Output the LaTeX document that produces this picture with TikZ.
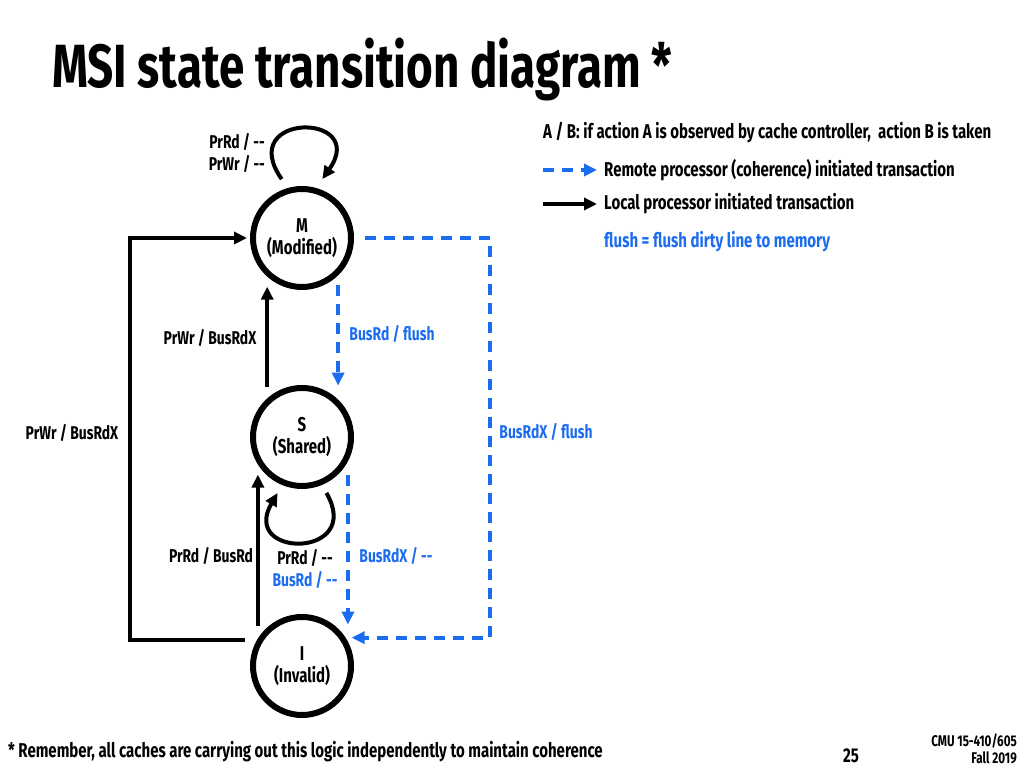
\documentclass[tikz,border=0pt]{standalone}
\usepackage{fontspec}
\setmainfont{Fira Sans}[FakeStretch=0.75]
\usetikzlibrary{arrows.meta, calc}
\definecolor{flushblue}{RGB}{28,108,240}
\newcommand{\lblfont}{\bfseries\fontsize{18.5}{22}\selectfont}
\newcommand{\circfont}{\bfseries\fontsize{20}{22}\selectfont}
\newcommand{\keyfont}{\bfseries\fontsize{20}{23}\selectfont}
\newcommand{\titlefont}{\bfseries\fontsize{61}{66}\selectfont}
\newcommand{\footfont}{\bfseries\fontsize{20}{22}\selectfont}
\newcommand{\nop}{-{}-}

\begin{document}
\begin{tikzpicture}[x=1pt, y=1pt,
  state/.style={circle, draw, line width=6pt, minimum size=98pt, inner sep=0pt, align=center, font=\circfont},
  local/.style={line width=4pt, -{Triangle[length=13pt,width=12pt]}},
  remote/.style={local, flushblue, dash pattern=on 11pt off 8pt},
  lbl/.style={font=\lblfont, inner sep=1pt, align=center}]
	\useasboundingbox (0,0) rectangle (1024,768);
	\node[font=\titlefont, anchor=base west, inner sep=0pt] (title) at (52,680) {MSI state transition diagram *};

	% the three states
	\node[state] (M) at (302,530) {M\\(Modified)};
	\node[state] (S) at (302,331) {S\\(Shared)};
	\node[state] (I) at (302,102) {I\\(Invalid)};
	\coordinate (lft) at (130,0);
	\coordinate (rgt) at (490,0);

	% local transitions
	\draw[local, shorten <=11pt, shorten >=10pt] (S.132) -- (M.228);
	\draw[local, shorten <=12pt, shorten >=10pt] (I.148) -- (S.212);
	\draw[local, shorten >=3pt] ([xshift=-12pt]I.150) -| (lft |- M.west) -- (M.west);
	\draw[local] ([yshift=11pt]M.113) .. controls +(125:82) and +(55:82) .. ([yshift=11pt]M.67);
	\draw[local] ([yshift=-10pt]S.298) .. controls +(-60:76) and +(-120:76) .. ([yshift=-10pt]S.242);

	% remote transitions
	\draw[remote, shorten <=10pt, shorten >=14pt] (M.314) -- (S.46);
	\draw[remote, shorten <=14pt, shorten >=17pt] (S.332) -- (I.28);
	\draw[remote, shorten >=6pt] ([xshift=11pt]M.east) -- (rgt |- M.east) -- (rgt |- I.33) -- (I.33);

	% transition labels
	\node[lbl, anchor=east, align=right] (mloop) at (266,615) {PrRd / \nop\\PrWr / \nop};
	\node[lbl] (sm) at (210,430) {PrWr / BusRdX};
	\node[lbl] (im) at (72,335) {PrWr / BusRdX};
	\node[lbl] (is) at (211,212) {PrRd / BusRd};
	\node[lbl] (sloop) at (305,210) {PrRd / \nop};
	\node[lbl, flushblue] (sloopb) at (305,188) {BusRd / \nop};
	\node[lbl, flushblue] (ms) at (392,434) {BusRd / flush};
	\node[lbl, flushblue] (mi) at (546,336) {BusRdX / flush};
	\node[lbl, flushblue] (si) at (396,212) {BusRdX / \nop};

	% key
	\node[font=\keyfont, anchor=west, inner sep=1pt] (key) at (542,635) {A / B: if action A is observed by cache controller,\ \ action B is taken};
	\node[font=\keyfont, anchor=west, inner sep=1pt] (rtxt) at (603,598) {Remote processor (coherence) initiated transaction};
	\node[font=\keyfont, anchor=west, inner sep=1pt] (ltxt) at (603,564) {Local processor initiated transaction};
	\node[font=\keyfont, anchor=west, inner sep=1pt, flushblue] (ftxt) at (603,526) {flush = flush dirty line to memory};
	\coordinate (rs) at (543,598);
	\coordinate (ls) at (543,564);
	\draw[remote, shorten >=6pt] (rs) -- (rtxt.west);
	\draw[local, shorten >=6pt] (ls) -- (ltxt.west);

	% footer
	\node[font=\footfont, anchor=west, inner sep=0pt] (note) at (8,16) {* Remember, all caches are carrying out this logic independently to maintain coherence};
	\node[font=\footfont, inner sep=0pt] (page) at (851,12) {25};
	\node[font=\bfseries\fontsize{15.5}{18}\selectfont, anchor=east, inner sep=0pt] (course) at (1017,27) {CMU 15-410/605};
	\node[font=\bfseries\fontsize{15.5}{18}\selectfont, anchor=east, inner sep=0pt] (term) at (1017,10) {Fall 2019};
\end{tikzpicture}
\end{document}
